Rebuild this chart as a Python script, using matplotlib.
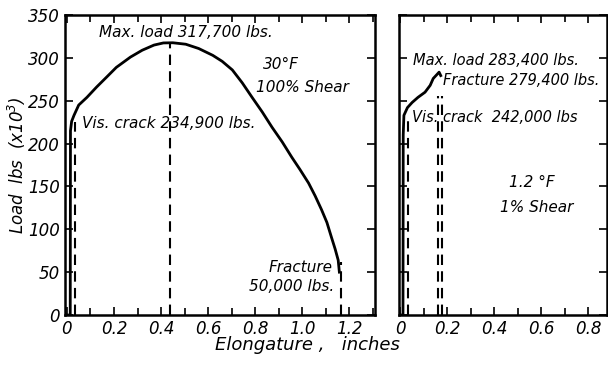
import matplotlib.pyplot as plt
from matplotlib.ticker import MultipleLocator

plt.rcParams['font.family'] = ['Liberation Sans Narrow', 'DejaVu Sans']
plt.rcParams['font.style'] = 'italic'

# 30 F specimen, 100% shear
elong_a = [0.0, 0.014, 0.015, 0.02, 0.03, 0.05, 0.085, 0.126, 0.17, 0.21, 0.27, 0.32,
           0.37, 0.41, 0.45, 0.505, 0.56, 0.62, 0.66, 0.703, 0.745, 0.787, 0.83,
           0.872, 0.915, 0.956, 0.99, 1.027, 1.055, 1.082, 1.105, 1.124, 1.14,
           1.153, 1.158]
load_a = [0, 0, 215, 226, 233, 245, 254, 266, 278, 289, 301, 309,
          315, 317.5, 317.7, 316, 311, 303, 296, 286, 271, 254, 237,
          219, 202, 184, 170, 154, 139, 123, 108, 91, 77,
          64, 50]
vis_crack_a = (0.034, 234.9)
max_load_a = (0.44, 317.7)
fracture_a = (1.163, 50.0)

# 1.2 F specimen, 1% shear
elong_b = [0.0, 0.011, 0.012, 0.015, 0.03, 0.05, 0.075, 0.105, 0.127, 0.14, 0.157,
           0.165, 0.172]
load_b = [0, 0, 210, 233, 242, 248, 254, 260, 268, 276, 281,
          283.4, 279.4]
vis_crack_b = (0.032, 242.0)
max_load_b = (0.16, 283.4)
fracture_b = (0.178, 279.4)

fig = plt.figure(figsize=(6.08, 3.68), dpi=100)
ax1 = fig.add_axes([0.107, 0.144, 0.510, 0.815])
ax2 = fig.add_axes([0.657, 0.144, 0.341, 0.815])

for ax, xlim in ((ax1, (-0.008, 1.31)), (ax2, (-0.004, 0.88))):
    ax.set_xlim(*xlim)
    ax.set_ylim(0, 350)
    ax.xaxis.set_major_locator(MultipleLocator(0.2))
    ax.xaxis.set_minor_locator(MultipleLocator(0.1))
    ax.yaxis.set_major_locator(MultipleLocator(50))
    ax.tick_params(which='both', direction='in', top=True, right=True,
                   width=1.2, labelsize=12)
    ax.tick_params(which='major', length=6)
    ax.tick_params(which='minor', length=5)
    for s in ax.spines.values():
        s.set_linewidth(1.8)

ax1.set_xticks([0, 0.2, 0.4, 0.6, 0.8, 1.0, 1.2])
ax1.set_xticklabels(['0', '0.2', '0.4', '0.6', '0.8', '1.0', '1.2'])
ax2.set_xticks([0, 0.2, 0.4, 0.6, 0.8])
ax2.set_xticklabels(['0', '0.2', '0.4', '0.6', '0.8'])
ax2.tick_params(labelleft=False)

dash = dict(color='black', lw=1.5, ls=(0, (5, 3)))

ax1.plot(elong_a, load_a, color='black', lw=2)
ax1.plot([vis_crack_a[0]] * 2, [0, vis_crack_a[1] - 10], **dash)
ax1.plot([max_load_a[0]] * 2, [0, max_load_a[1]], **dash)
ax1.plot([fracture_a[0]] * 2, [0, fracture_a[1] + 12], **dash)

ax2.plot(elong_b, load_b, color='black', lw=2)
ax2.plot([vis_crack_b[0]] * 2, [0, vis_crack_b[1] - 12], **dash)
ax2.plot([max_load_b[0]] * 2, [0, 256], **dash)
ax2.plot([fracture_b[0]] * 2, [0, 256], **dash)

ax1.text(0.505, 330, 'Max. load 317,700 lbs.', ha='center', va='center', fontsize=11)
ax1.text(0.91, 292, '30°F', ha='center', va='center', fontsize=11)
ax1.text(1.0, 265, '100% Shear', ha='center', va='center', fontsize=11)
ax1.text(0.063, 224, 'Vis. crack 234,900 lbs.', ha='left', va='center', fontsize=11)
ax1.text(1.13, 56, 'Fracture', ha='right', va='center', fontsize=11)
ax1.text(1.135, 33, '50,000 lbs.', ha='right', va='center', fontsize=11)

ax2.text(0.055, 297, 'Max. load 283,400 lbs.', ha='left', va='center', fontsize=10.5)
ax2.text(0.18, 274, 'Fracture 279,400 lbs.', ha='left', va='center', fontsize=10.5)
ax2.text(0.05, 230, 'Vis. crack  242,000 lbs', ha='left', va='center', fontsize=10.5)
ax2.text(0.56, 155, '1.2 °F', ha='center', va='center', fontsize=11)
ax2.text(0.58, 125, '1% Shear', ha='center', va='center', fontsize=11)

ax1.set_ylabel('Load  lbs  (x10$^3$)', fontsize=12)
ax1.yaxis.set_label_coords(-0.12, 0.5)
fig.text(0.505, 0.062, 'Elongature ,   inches', ha='center', va='center', fontsize=13)

fig.savefig('out.png', dpi=100)
